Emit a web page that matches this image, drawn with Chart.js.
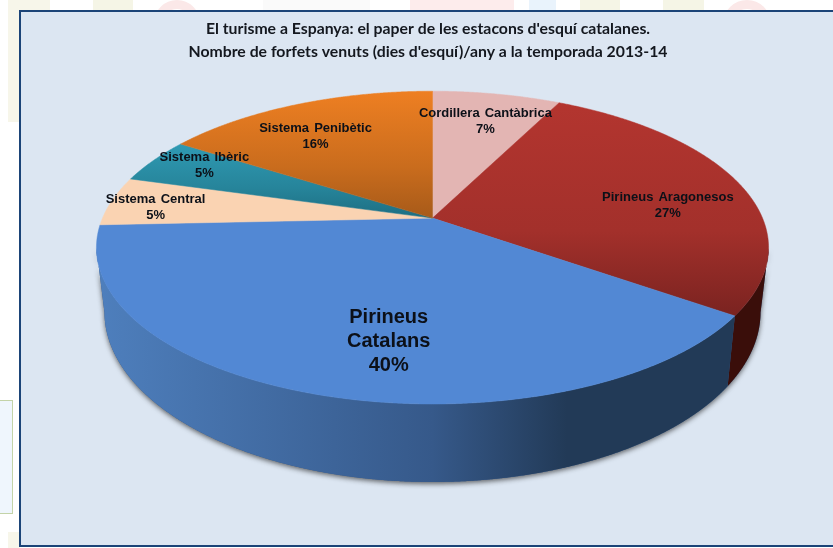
<!DOCTYPE html>
<html>
<head>
<meta charset="utf-8">
<title>El turisme a Espanya</title>
<script src="https://cdn.jsdelivr.net/npm/chart.js@4"></script>
<style>
  body { margin: 0; background: #fff; overflow: hidden; }
  #page { position: relative; width: 833px; height: 548px; overflow: hidden; }
  #page div { position: absolute; }
  #frame { left: 19px; top: 10px; width: 820px; height: 533px; background: #dce6f2; border: 2px solid #1b4478; }
  #sidebox { left: -2px; top: 400px; width: 13px; height: 112px; background: #eff6fd; border: 1px solid #c3d3a8; }
  canvas { position: absolute; left: 0; top: 0; }
</style>
</head>
<body>
<div id="page">
  <!-- faint logo colours behind the slide -->
  <div style="left:8px;top:0;width:42px;height:122px;background:#f7f6ea"></div>
  <div style="left:93px;top:0;width:40px;height:10px;background:#f5f5e6"></div>
  <div style="left:154px;top:0;width:28px;height:28px;border:9px solid #fbe8e8;border-radius:50%"></div>
  <div style="left:263px;top:0;width:107px;height:10px;background:#fafafa"></div>
  <div style="left:410px;top:0;width:104px;height:10px;background:#fdecec"></div>
  <div style="left:529px;top:0;width:27px;height:10px;background:#e9f3fc"></div>
  <div style="left:580px;top:0;width:40px;height:10px;background:#f5f5e6"></div>
  <div style="left:663px;top:0;width:41px;height:10px;background:#f5f5e6"></div>
  <div style="left:723px;top:0;width:30px;height:30px;border:9px solid #fbe8e8;border-radius:50%"></div>
  <div style="left:8px;top:532px;width:12px;height:16px;background:#f7f6ea"></div>
  <div id="sidebox"></div>
  <div id="frame"></div>
  <canvas id="myChart" width="833" height="548"></canvas>
</div>
<script>
// Data
const categories = ["Cordillera Cantàbrica", "Pirineus Aragonesos", "Pirineus Catalans", "Sistema Central", "Sistema Ibèric", "Sistema Penibètic"];
const shares = [7.4, 27.4, 39.5, 5.1, 4.7, 15.9];

// Colours of the top face (gradient top to bottom) and of the side wall
const topColors = ["#e3b5b3", "#b3352f", "#5288d4", "#fad3b2", "#2f9ab3", "#ee7f22"];
const midColors = ["#e3b5b3", "#a3302b", "#5288d4", "#fad3b2", "#26849a", "#c96c1d"];
const bottomColors = ["#e3b5b3", "#7a2320", "#5288d4", "#fad3b2", "#1d6e82", "#a75a19"];
const wallLeft = [null, "#43100b", "#4e7fbd", null, null, null];
const wallMid = [null, "#380d09", "#36598a", null, null, null];
const wallRight = [null, "#3a0e0a", "#223a57", null, null, null];

// Label placement inside each slice
const labelRadius = [0.753, 0.729, 0.72, 0.854, 0.83, 0.7225];
const labelTurn = [0.7, 7.5, -7.2, -1.7, 2.6, -4.5];
const labelSize = [13, 13, 20, 13, 13, 13];

// Shape of the tilted pie, as multiples of the radius Chart.js gives us
const shiftX = 4.5;
const topRx = 1.719, topRy = 0.8, topDy = -0.199;
const bottomRx = 1.678, bottomRy = 0.87, bottomDy = 0.13;
const lean = -0.1885; // moves the apex away from the middle of the ellipse

// circle point -> tilted top face. also returns the rim parameter for the wall
function project(arc, angle, r) {
  const R = arc.outerRadius;
  const x0 = r * Math.cos(angle);
  const y0 = r * Math.sin(angle);
  const den = 1 + lean * y0;
  const X = x0 * Math.sqrt(1 - lean * lean) / den;
  const Y = (y0 + lean) / den;
  return {
    x: arc.x + shiftX + R * topRx * X,
    y: arc.y + R * topDy + R * topRy * Y,
    X: X,
    Y: Y
  };
}

function bottomRim(arc, p) {
  const R = arc.outerRadius;
  const phi = Math.atan2(p.Y, p.X);
  return {
    x: arc.x + shiftX + R * bottomRx * Math.cos(phi),
    y: arc.y + R * bottomDy + R * bottomRy * Math.sin(phi)
  };
}

function rimPoints(arc, from, to) {
  const pts = [];
  const steps = Math.max(2, Math.ceil((to - from) / 0.004));
  for (let i = 0; i <= steps; i++) {
    pts.push(project(arc, from + (to - from) * i / steps, 1));
  }
  return pts;
}

function traceWall(ctx, arc, pts) {
  ctx.beginPath();
  pts.forEach((p, i) => (i ? ctx.lineTo(p.x, p.y) : ctx.moveTo(p.x, p.y)));
  for (let i = pts.length - 1; i >= 0; i--) {
    const b = bottomRim(arc, pts[i]);
    ctx.lineTo(b.x, b.y);
  }
  ctx.closePath();
}

class Arc3D extends Chart.ArcElement {
  draw(ctx) {
    const i = this.$context.dataIndex;
    const pts = rimPoints(this, this.startAngle, this.endAngle);

    // side wall, only the part facing us
    const front = pts.filter((p) => p.Y >= 0);
    if (front.length > 1 && wallLeft[i]) {
      const R = this.outerRadius;
      const x0 = this.x + shiftX - R * topRx;
      const x1 = this.x + shiftX + R * topRx;
      const wall = ctx.createLinearGradient(x0, 0, x1, 0);
      wall.addColorStop(0, wallLeft[i]);
      wall.addColorStop(0.5, wallMid[i]);
      wall.addColorStop(0.7, wallRight[i]);
      wall.addColorStop(1, wallRight[i]);
      traceWall(ctx, this, front);
      ctx.fillStyle = i === 1 ? wallRight[i] : wall;
      ctx.fill();
    }

    // top face
    const apex = project(this, 0, 0);
    const ys = pts.map((p) => p.y).concat(apex.y);
    const face = ctx.createLinearGradient(0, Math.min(...ys), 0, Math.max(...ys));
    face.addColorStop(0, topColors[i]);
    face.addColorStop(0.6, midColors[i]);
    face.addColorStop(1, bottomColors[i]);
    ctx.beginPath();
    ctx.moveTo(apex.x, apex.y);
    pts.forEach((p) => ctx.lineTo(p.x, p.y));
    ctx.closePath();
    ctx.fillStyle = face;
    ctx.strokeStyle = face;
    ctx.lineWidth = 0.5;
    ctx.fill();
    ctx.stroke();
  }
}
Arc3D.id = "arc3d";
Arc3D.defaults = Chart.ArcElement.defaults;

class Pie3DController extends Chart.PieController {}
Pie3DController.id = "pie3d";
Pie3DController.defaults = { dataElementType: "arc3d" };

Chart.register(Arc3D, Pie3DController);

// soft shadow under the whole wall
const wallShadow = {
  id: "wallShadow",
  beforeDatasetsDraw(chart) {
    const ctx = chart.ctx;
    const arc = chart.getDatasetMeta(0).data[0];
    const pts = rimPoints(arc, -Math.PI / 2, 1.5 * Math.PI).filter((p) => p.Y >= 0);
    pts.sort((a, b) => b.X - a.X);
    ctx.save();
    ctx.shadowColor = "rgba(30,30,30,0.65)";
    ctx.shadowBlur = 5;
    ctx.shadowOffsetY = 2;
    traceWall(ctx, arc, pts);
    ctx.fillStyle = "#36598a";
    ctx.fill();
    ctx.restore();
  }
};

// category name and rounded percentage on each slice
const sliceLabels = {
  id: "sliceLabels",
  afterDatasetsDraw(chart) {
    const ctx = chart.ctx;
    chart.getDatasetMeta(0).data.forEach((arc, i) => {
      const mid = (arc.startAngle + arc.endAngle) / 2 + labelTurn[i] * Math.PI / 180;
      const p = project(arc, mid, labelRadius[i]);
      const size = labelSize[i];
      const big = size > 15;
      const lines = big ? categories[i].split(" ") : [categories[i]];
      lines.push(Math.round(shares[i]) + "%");
      const step = big ? 24 : 16;
      ctx.save();
      ctx.font = "bold " + size + "px 'Liberation Sans', Arial, sans-serif";
      ctx.wordSpacing = "1.5px";
      ctx.fillStyle = "#0c1018";
      ctx.textAlign = "center";
      ctx.textBaseline = "middle";
      lines.forEach((line, n) => {
        ctx.fillText(line, p.x, p.y + (n - (lines.length - 1) / 2) * step);
      });
      ctx.restore();
    });
  }
};

const myChart = new Chart(document.getElementById("myChart"), {
  type: "pie3d",
  data: {
    labels: categories,
    datasets: [{ data: shares, backgroundColor: topColors, borderWidth: 0 }]
  },
  options: {
    responsive: false,
    maintainAspectRatio: false,
    animation: false,
    events: [],
    layout: { padding: { left: 91, right: 68, top: 0, bottom: 66 } },
    plugins: {
      legend: { display: false },
      tooltip: { enabled: false },
      title: {
        display: true,
        text: ["El turisme a Espanya: el paper de les estacons d'esquí catalanes.", "Nombre de forfets venuts (dies d'esquí)/any a la temporada 2013-14"],
        color: "#14181f",
        font: { family: "Lato", size: 15.8, weight: "bold", lineHeight: 1.456 },
        padding: { top: 17.5, bottom: 27.5 }
      }
    }
  },
  plugins: [wallShadow, sliceLabels]
});
</script>
</body>
</html>
